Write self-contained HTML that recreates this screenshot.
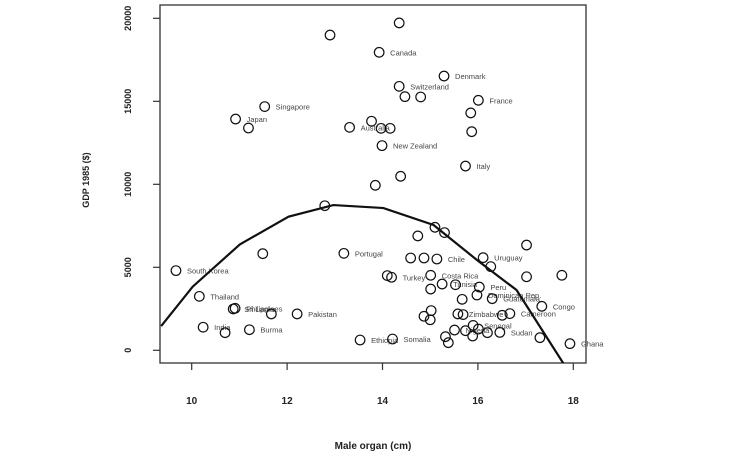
<!DOCTYPE html>
<html><head><meta charset="utf-8"><style>
body{margin:0;background:#fff;}
svg{display:block;font-family:"Liberation Sans",Arial,sans-serif;}
</style></head><body>
<svg id="chart" width="754" height="458" viewBox="0 0 754 458"></svg>
<script>
const xs=[14.35,12.9,13.93,15.29,14.35,14.47,14.8,16.01,15.85,11.53,10.92,11.19,13.77,13.31,13.97,14.16,15.87,13.99,15.74,14.38,13.85,12.79,15.10,15.30,14.74,17.02,11.49,13.19,14.59,14.87,15.14,16.11,16.27,9.67,14.10,14.19,15.01,17.02,17.76,15.25,15.53,16.03,15.01,10.16,15.98,15.67,16.30,17.34,10.87,10.91,15.02,11.67,12.21,15.58,15.69,16.51,16.67,14.87,15.00,15.90,10.24,15.51,15.74,16.01,11.21,10.70,16.20,16.46,17.30,15.32,15.89,15.38,13.53,14.21,17.93];
const ys=[19720,18990,17950,16520,15900,15280,15260,15060,14300,14680,13930,13390,13800,13430,13370,13370,13170,12330,11100,10480,9940,8710,7410,7090,6890,6340,5820,5840,5560,5560,5500,5580,5040,4800,4500,4400,4520,4430,4520,3990,3950,3810,3690,3250,3330,3070,3110,2650,2490,2530,2390,2190,2190,2190,2150,2110,2210,2050,1840,1500,1390,1220,1180,1280,1240,1060,1060,1080,760,820,860,460,620,680,400];
const names=["","","Canada","Denmark","Switzerland","","","France","","Singapore","Japan","","","Australia","","","","New Zealand","Italy","","","","","","","","","Portugal","","","Chile","Uruguay","","South Korea","","Turkey","Costa Rica","","","Tunisia","","Peru","","Thailand","Dominican Rep.","","Guatemala","Congo","Sri Lanka","Philippines","","","Pakistan","Zimbabwe","","","Cameroon","","","Senegal","India","Nigeria","","","Burma","","","Sudan","","","","","Ethiopia","Somalia","Ghana"];
const curveX=[9.36,10.02,11.01,12.03,12.97,14.02,15.07,15.98,16.81,17.79];
const curveY=[1460,3830,6380,8050,8750,8570,7550,5440,3630,-780];
const xTicks=[10,12,14,16,18];
const yTicks=[0,5000,10000,15000,20000];
const NS="http://www.w3.org/2000/svg";
const svg=document.getElementById('chart');
const L=160,R=586,T=5,B=363;
const sx=v=>191.7+(v-10)*47.7;
const sy=v=>350.3-v*0.0166;
function mk(t,a,p){const e=document.createElementNS(NS,t);for(const k in a)e.setAttribute(k,a[k]);(p||svg).appendChild(e);return e;}
const box=mk('rect',{x:L,y:T,width:R-L,height:B-T,fill:'none',stroke:'#333','stroke-width':1.3});


const cp=mk('clipPath',{id:'cp'});mk('rect',{x:L,y:T,width:R-L,height:B-T},cp);
xTicks.forEach(v=>{
  const l=mk('line',{x1:sx(v),x2:sx(v),y1:B,y2:B+7,stroke:'#333','stroke-width':1.2});
  
  
  const t=mk('text',{x:sx(v),y:404,'text-anchor':'middle','font-size':10,'font-weight':'bold',fill:'#222'});
  t.textContent=v;
  
  
});
yTicks.forEach(v=>{
  const l=mk('line',{x1:L-7,x2:L,y1:sy(v),y2:sy(v),stroke:'#333','stroke-width':1.2});
  
  
  const t=mk('text',{x:0,y:0,'text-anchor':'middle','font-size':9,'font-weight':'bold',fill:'#222',transform:`translate(131,${sy(v)}) rotate(-90)`});
  t.textContent=v;
  
  
});
const xt=mk('text',{x:373,y:449,'text-anchor':'middle','font-size':10,'font-weight':'bold',fill:'#222'});
xt.textContent='Male organ (cm)';


const yt=mk('text',{x:0,y:0,'text-anchor':'middle','font-size':9,'font-weight':'bold',fill:'#222',transform:'translate(89,180) rotate(-90)'});
yt.textContent='GDP 1985 ($)';


xs.forEach((x,i)=>{
  const c=mk('circle',{cx:sx(x),cy:sy(ys[i]),r:4.8,fill:'none',stroke:'#111','stroke-width':1.2});
  
  
  if(names[i]){
    const t=mk('text',{x:sx(x)+11,y:sy(ys[i])+3,'font-size':7.5,fill:'#444'});
    t.textContent=names[i];
    
    
  }
});
const path=mk('polyline',{points:curveX.map((x,i)=>sx(x)+','+sy(curveY[i])).join(' '),fill:'none',stroke:'#111','stroke-width':2.2,'clip-path':'url(#cp)'});


</script>
</body></html>
